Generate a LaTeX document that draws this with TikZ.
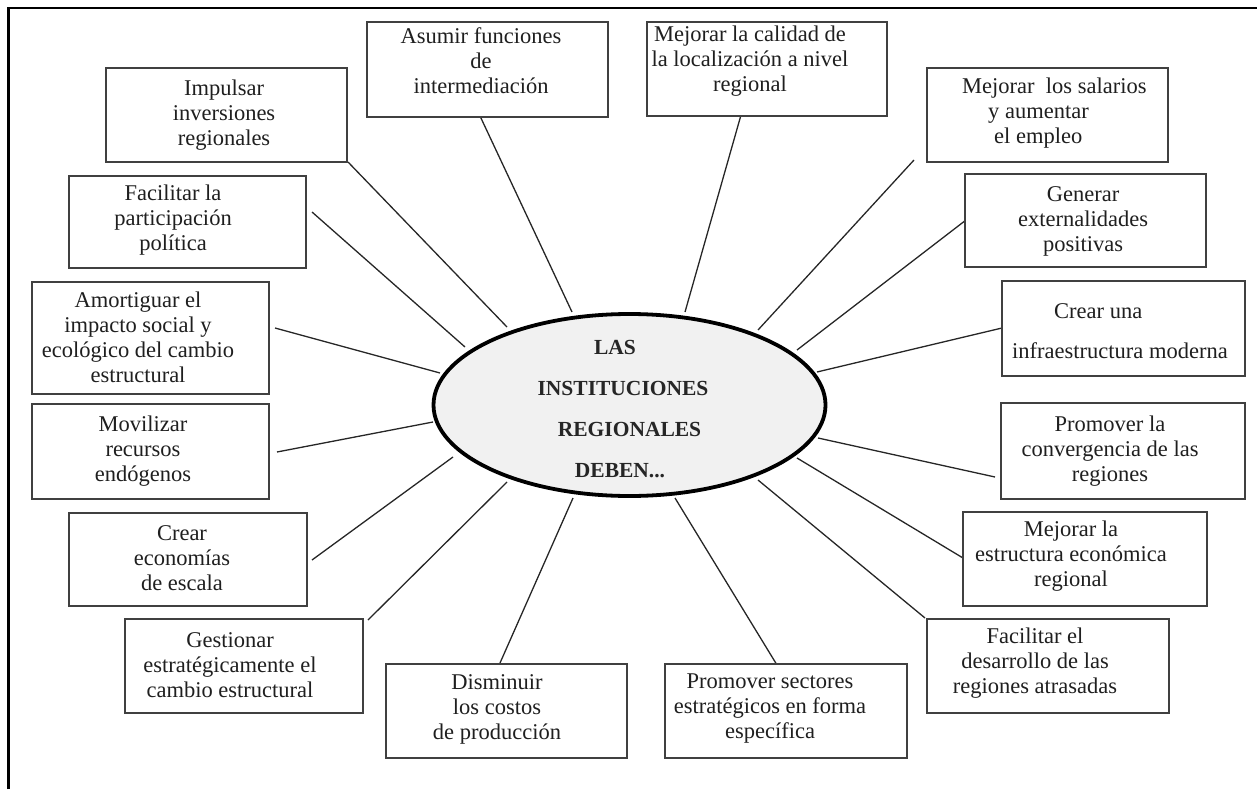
\documentclass[tikz,border=0pt]{standalone}
\usepackage{fontspec}
\setmainfont{Liberation Serif}
\usetikzlibrary{shapes.geometric}
\definecolor{ellfill}{HTML}{F1F1F1}
\begin{document}
\begin{tikzpicture}[x=1pt,y=-1pt,
  boxnode/.style={draw=black!75, line width=1.5pt, inner sep=0pt, fill=white},
  boxtext/.style={align=center, inner sep=0pt, font=\fontsize{22.5}{25}\selectfont, text=black!88},
  lefttext/.style={boxtext, align=left, anchor=west},
  conn/.style={line width=1.3pt, draw=black!85},
  ell/.style={ellipse, draw=black, line width=3.8pt, fill=ellfill, minimum width=392pt, minimum height=182pt, inner sep=0pt},
  elltext/.style={align=center, inner sep=0pt, font=\fontsize{21.5}{25}\selectfont\bfseries, text=black!85}]
\useasboundingbox (0,0) rectangle (1257,789);
% frame
\draw[line width=2.7pt] (8.7,789) -- (8.7,8) -- (1257,8);

% connector end points
\coordinate (imp-a) at (348,162); \coordinate (imp-b) at (507,327);
\coordinate (fpa-a) at (312,212); \coordinate (fpa-b) at (465,347);
\coordinate (asu-a) at (480,116); \coordinate (asu-b) at (572,312);
\coordinate (mca-a) at (741,115); \coordinate (mca-b) at (685,312);
\coordinate (sal-a) at (914,160); \coordinate (sal-b) at (758,330);
\coordinate (gen-a) at (966,220); \coordinate (gen-b) at (797,350);
\coordinate (inf-a) at (1002,328); \coordinate (inf-b) at (817,372);
\coordinate (con-a) at (995,477); \coordinate (con-b) at (818,438);
\coordinate (est-a) at (963,558); \coordinate (est-b) at (797,458);
\coordinate (des-a) at (925,618); \coordinate (des-b) at (758,480);
\coordinate (sec-a) at (777,665); \coordinate (sec-b) at (675,498);
\coordinate (dis-a) at (500,663); \coordinate (dis-b) at (573,498);
\coordinate (ges-a) at (368,620); \coordinate (ges-b) at (507,482);
\coordinate (eco-a) at (312,560); \coordinate (eco-b) at (453,457);
\coordinate (mov-a) at (277,452); \coordinate (mov-b) at (433,422);
\coordinate (amo-a) at (275,328); \coordinate (amo-b) at (440,373);

\foreach \n in {imp,fpa,asu,mca,sal,gen,inf,con,est,des,sec,dis,ges,eco,mov,amo}
  \draw[conn] (\n-a) -- (\n-b);

% central ellipse
\node[ell] (center) at (629.5,405) {};
\node[elltext] (center-t) at (629.5,409) {\hspace*{-29pt}LAS\\[16pt]\hspace*{-13pt}INSTITUCIONES\\[16pt]REGIONALES\\[16pt]\hspace*{-19pt}DEBEN...};

% boxes
\node[boxnode, minimum width=241pt, minimum height=94pt] (imp) at (226.5,115) {};
\node[boxtext] (imp-t) at (224,115) {Impulsar\\inversiones\\regionales};

\node[boxnode, minimum width=237pt, minimum height=92pt] (fpa) at (187.5,222) {};
\node[boxtext] (fpa-t) at (173,220) {Facilitar la\\participación\\política};

\node[boxnode, minimum width=241pt, minimum height=95pt] (asu) at (487.5,69.5) {};
\node[boxtext] (asu-t) at (481,61) {Asumir funciones\\de\\intermediación};

\node[boxnode, minimum width=240pt, minimum height=94pt] (mca) at (767,69) {};
\node[boxtext] (mca-t) at (750,61) {Mejorar la calidad de\\la localización a nivel\\regional};

\node[boxnode, minimum width=241pt, minimum height=94pt] (sal) at (1047.5,115) {};
\node[lefttext] (sal-t) at (962,113) {Mejorar\ \ los salarios\\\hspace*{26pt}y aumentar\\\hspace*{32pt}el empleo};

\node[boxnode, minimum width=241pt, minimum height=93pt] (gen) at (1085.5,220.5) {};
\node[boxtext] (gen-t) at (1083,221) {Generar\\externalidades\\positivas};

\node[boxnode, minimum width=243pt, minimum height=95pt] (inf) at (1123.5,328.5) {};
\node[lefttext] (inf-t) at (1012,331) {\hspace*{42pt}Crear una\\[15pt]infraestructura moderna};

\node[boxnode, minimum width=244pt, minimum height=96pt] (con) at (1123,451) {};
\node[boxtext] (con-t) at (1110,451) {Promover la\\convergencia de las\\regiones};

\node[boxnode, minimum width=244pt, minimum height=94pt] (est) at (1085,559) {};
\node[boxtext] (est-t) at (1071,556) {Mejorar la\\estructura económica\\regional};

\node[boxnode, minimum width=242pt, minimum height=94pt] (des) at (1048,666) {};
\node[boxtext] (des-t) at (1035,663) {Facilitar el\\desarrollo de las\\regiones atrasadas};

\node[boxnode, minimum width=242pt, minimum height=94pt] (sec) at (786,711) {};
\node[boxtext] (sec-t) at (770,709) {Promover sectores\\estratégicos en forma\\específica};

\node[boxnode, minimum width=241pt, minimum height=94pt] (dis) at (506.5,711) {};
\node[boxtext] (dis-t) at (497,709) {Disminuir\\los costos\\de producción};

\node[boxnode, minimum width=238pt, minimum height=94pt] (ges) at (244,666) {};
\node[boxtext] (ges-t) at (230,665) {Gestionar\\estratégicamente el\\cambio estructural};

\node[boxnode, minimum width=238pt, minimum height=93pt] (eco) at (188,559.5) {};
\node[boxtext] (eco-t) at (182,558) {Crear\\economías\\de escala};

\node[boxnode, minimum width=237pt, minimum height=95pt] (mov) at (150.5,451.5) {};
\node[boxtext] (mov-t) at (143,451) {Movilizar\\recursos\\endógenos};

\node[boxnode, minimum width=237pt, minimum height=112pt] (amo) at (150.5,338) {};
\node[boxtext] (amo-t) at (138,337) {Amortiguar el\\impacto social y\\ecológico del cambio\\estructural};
\end{tikzpicture}
\end{document}
